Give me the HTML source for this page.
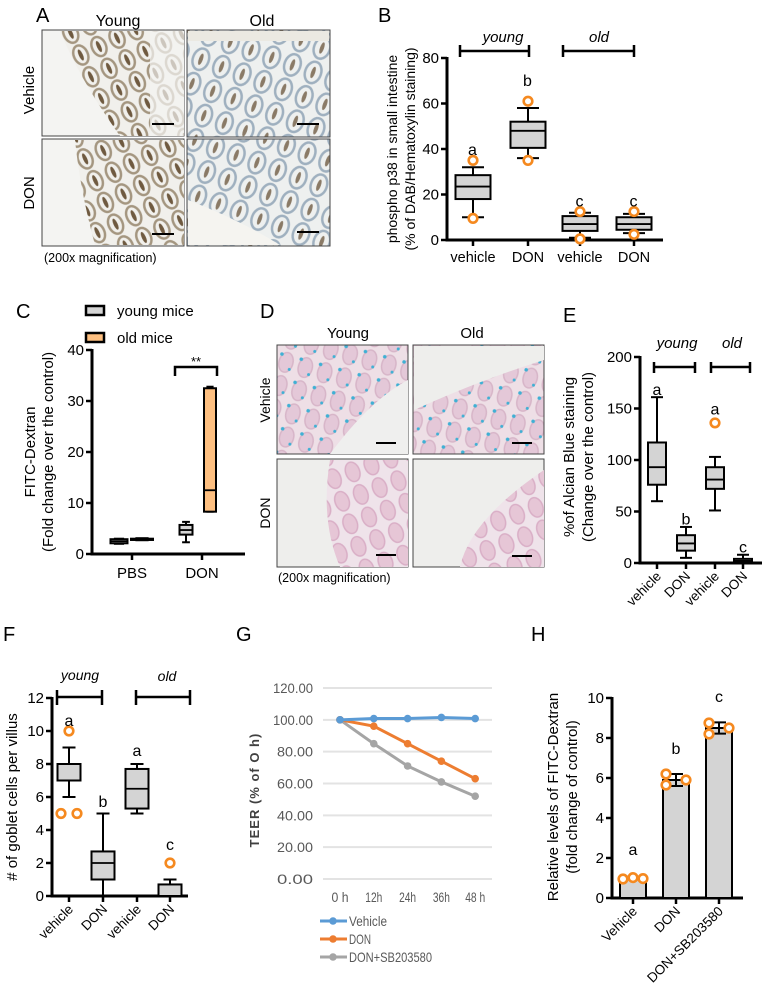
<!DOCTYPE html>
<html><head><meta charset="utf-8"><style>
html,body{margin:0;padding:0;background:#fff;}
svg{display:block;font-family:"Liberation Sans",sans-serif;}
</style></head><body>
<svg id="fig" width="764" height="998" viewBox="0 0 764 998" xmlns="http://www.w3.org/2000/svg">
<defs>
<pattern id="villiA" width="22" height="26" patternUnits="userSpaceOnUse" patternTransform="rotate(20)">
<rect width="22" height="26" fill="#eef0ef"/>
<ellipse cx="11" cy="13" rx="8" ry="11" fill="none" stroke="#9fb0bf" stroke-width="2.5"/>
<ellipse cx="11" cy="13" rx="2" ry="6" fill="#8a7a66"/>
</pattern>
<pattern id="villiA2" width="20" height="24" patternUnits="userSpaceOnUse" patternTransform="rotate(-25)">
<rect width="20" height="24" fill="#f1f0ec"/>
<ellipse cx="10" cy="12" rx="7" ry="10" fill="none" stroke="#a49680" stroke-width="2.5"/>
<ellipse cx="10" cy="12" rx="2" ry="6" fill="#6f5a40"/>
</pattern>
<pattern id="villiD" width="20" height="24" patternUnits="userSpaceOnUse" patternTransform="rotate(15)">
<rect width="20" height="24" fill="#eedfe6"/>
<ellipse cx="10" cy="12" rx="7" ry="10" fill="#e4c8d8" stroke="#d7b5c8" stroke-width="1.5"/>
<circle cx="4" cy="5" r="1.8" fill="#3fb0d4"/>
<circle cx="15" cy="18" r="1.5" fill="#3fb0d4"/>
</pattern>
<pattern id="villiD2" width="20" height="24" patternUnits="userSpaceOnUse" patternTransform="rotate(-20)">
<rect width="20" height="24" fill="#efe3ea"/>
<ellipse cx="10" cy="12" rx="7" ry="10" fill="#e6c6d6" stroke="#d9aec6" stroke-width="1.5"/>
</pattern>
</defs>

<!-- Panel A -->
<g>
<text x="36" y="22" font-size="20">A</text>
<text x="118" y="26" font-size="16" text-anchor="middle">Young</text>
<text x="262" y="26" font-size="16" text-anchor="middle">Old</text>
<text transform="translate(34,90) rotate(-90)" font-size="15" text-anchor="middle">Vehicle</text>
<text transform="translate(34,193) rotate(-90)" font-size="15" text-anchor="middle">DON</text>
<g>
<rect x="42" y="30" width="142" height="106" fill="#f4f4f2" stroke="#444" stroke-width="1"/>
<path d="M60 31 L184 31 L184 136 L120 136 Q80 80 60 31Z" fill="url(#villiA2)"/>
<path d="M150 31 L184 31 L184 136 L150 136 Z" fill="#f4f4f2" opacity="0.7"/>
<rect x="152" y="123" width="22" height="2" fill="#000"/>
</g>
<g>
<rect x="187" y="30" width="143" height="107" fill="url(#villiA)" stroke="#444" stroke-width="1"/>
<rect x="188" y="31" width="141" height="10" fill="#ebe9e2"/>
<rect x="297" y="123" width="22" height="2" fill="#000"/>
</g>
<g>
<rect x="42" y="139" width="142" height="107" fill="#f4f4f2" stroke="#444" stroke-width="1"/>
<path d="M75 140 L184 140 L184 245 L95 245 Q80 190 75 140Z" fill="url(#villiA2)"/>
<rect x="152" y="233" width="22" height="2" fill="#000"/>
</g>
<g>
<rect x="187" y="139" width="143" height="107" fill="url(#villiA)" stroke="#444" stroke-width="1"/>
<path d="M188 200 Q240 220 280 245 L188 245Z" fill="#f5f4f0"/>
<rect x="297" y="231" width="22" height="2" fill="#000"/>
</g>
<text x="44" y="262" font-size="12.5">(200x magnification)</text>
</g>

<!-- Panel D -->
<g>
<text x="260" y="318" font-size="20">D</text>
<text x="348" y="338" font-size="15" text-anchor="middle">Young</text>
<text x="472" y="338" font-size="15" text-anchor="middle">Old</text>
<text transform="translate(270,400) rotate(-90)" font-size="14" text-anchor="middle">Vehicle</text>
<text transform="translate(270,513) rotate(-90)" font-size="14" text-anchor="middle">DON</text>
<g>
<rect x="277" y="345" width="131" height="109" fill="url(#villiD)" stroke="#444" stroke-width="1"/>
<path d="M330 454 Q370 400 408 380 L408 454Z" fill="#efefee"/>
<rect x="376" y="442" width="20" height="2" fill="#000"/>
</g>
<g>
<rect x="413" y="345" width="131" height="109" fill="url(#villiD)" stroke="#444" stroke-width="1"/>
<path d="M414 346 L544 346 L544 360 Q480 380 414 410Z" fill="#eeeeec"/>
<rect x="512" y="442" width="20" height="2" fill="#000"/>
</g>
<g>
<rect x="277" y="459" width="131" height="108" fill="#eeeeec" stroke="#444" stroke-width="1"/>
<path d="M330 460 L408 460 L408 567 L340 567 Q320 520 330 460Z" fill="url(#villiD2)"/>
<rect x="376" y="554" width="20" height="2" fill="#000"/>
</g>
<g>
<rect x="413" y="459" width="131" height="108" fill="#eeeeec" stroke="#444" stroke-width="1"/>
<path d="M460 567 Q470 520 544 470 L544 567Z" fill="url(#villiD2)"/>
<rect x="512" y="555" width="20" height="2" fill="#000"/>
</g>
<text x="278" y="582" font-size="12.5">(200x magnification)</text>
</g>

<!-- Panel letters for charts -->
<text x="378" y="22" font-size="20">B</text>
<text x="16" y="318" font-size="20">C</text>
<text x="563" y="322" font-size="20">E</text>
<text x="3" y="641" font-size="20">F</text>
<text x="236" y="641" font-size="20">G</text>
<text x="531" y="641" font-size="20">H</text>

<g id="chartB"></g>
<g id="chartC"></g>
<g id="chartE"></g>
<g id="chartF"></g>
<g id="chartG"></g>
<g id="chartH"></g>
</svg>

<script>
// ---------- Panel B data ----------
const catsB = ['vehicle','DON','vehicle','DON'];
const loB = [10,36,1,3];
const q1B = [18,40.5,4,4.5];
const medB = [23.5,48,7,7];
const q3B = [28.5,52,10.5,10];
const hiB = [32,58,12,11.5];
const outB = [[35,9.5],[61,35],[12.5,0.5],[12.5,2.5]];
const letB = ['a','b','c','c'];
const letYB = [39.5,70,17,17];
const ticksB = [0,20,40,60,80];

// ---------- Panel C data ----------
const catsC = ['PBS','DON'];
const seriesC = ['young mice','old mice'];
const loC = [[2,2.3],[2.7,8.3]];
const q1C = [[2.1,3.8],[2.75,8.3]];
const medC = [[2.5,4.7],[2.9,12.5]];
const q3C = [[2.9,5.7],[3.0,32.5]];
const hiC = [[3.0,6.3],[3.1,32.8]];
const ticksC = [0,10,20,30,40];

// ---------- Panel E data ----------
const catsE = ['vehicle','DON','vehicle','DON'];
const loE = [60,5,51,0];
const q1E = [76,12,72,0.5];
const medE = [93,19,81,2];
const q3E = [117,27,93,4];
const hiE = [161,35,103,8];
const outE = [[],[],[136],[]];
const letE = ['a','b','a','c'];
const letYE = [168,42,149,15];
const ticksE = [0,50,100,150,200];

// ---------- Panel F data ----------
const catsF = ['vehicle','DON','vehicle','DON'];
const loF = [6,0,5,0];
const q1F = [7,1,5.3,0];
const medF = [7,2,6.5,0];
const q3F = [8,2.7,7.7,0.7];
const hiF = [9,5,8,1];
const outF = [[10,5,5],[],[],[2]];
const letF = ['a','b','a','c'];
const letYF = [10.6,5.7,8.8,3.1];
const ticksF = [0,2,4,6,8,10,12];

// ---------- Panel G data ----------
const catsG = ['0 h','12h','24h','36h','48 h'];
const vehicleG = [100,100.8,100.8,101.5,100.8];
const donG = [100,96,85,74,63];
const sbG = [100,85,71,61,52];
const ticksG = [0,20,40,60,80,100,120];

// ---------- Panel H data ----------
const catsH = ['Vehicle','DON','DON+SB203580'];
const meansH = [1.0,5.9,8.5];
const errH = [0.06,0.3,0.28];
const dotsH = [[0.95,1.02,0.97],[6.2,5.65,5.9],[8.75,8.2,8.5]];
const letH = ['a','b','c'];
const ticksH = [0,2,4,6,8,10];

const NS = 'http://www.w3.org/2000/svg';
function mk(tag, attrs, parent, name){
  const el = document.createElementNS(NS, tag);
  for (const k in attrs) el.setAttribute(k, attrs[k]);
  
  
  parent.appendChild(el);
  return el;
}
function txt(parent, x, y, s, size, anchor, name, extra){
  const t = mk('text', Object.assign({x:x, y:y, 'font-size':size, 'text-anchor':anchor||'start'}, extra||{}), parent, name);
  t.textContent = s;
  return t;
}
function linear(d0,d1,r0,r1){ return v => r0 + (v-d0)/(d1-d0)*(r1-r0); }

function yAxis(g, x, y, ticks, ymin, ymax, fs){
  mk('line',{x1:x,y1:y(ymin)+1.5,x2:x,y2:y(ymax)-1,stroke:'#000','stroke-width':3},g,'y-axis-line');
  ticks.forEach(t=>{
    mk('line',{x1:x-6,y1:y(t),x2:x,y2:y(t),stroke:'#000','stroke-width':2.5},g,'y-tick');
    txt(g,x-8,y(t)+5,String(t),fs||15,'end','y-tick-label');
  });
}
function boxplot(g, cx, w, y, lo, q1, med, q3, hi, fill, name, cap){
  const c = cap||w*0.55;
  mk('line',{x1:cx,y1:y(lo),x2:cx,y2:y(hi),stroke:'#000','stroke-width':2},g,name+'-whisker');
  mk('line',{x1:cx-c/2,y1:y(hi),x2:cx+c/2,y2:y(hi),stroke:'#000','stroke-width':2},g,name+'-cap-high');
  mk('line',{x1:cx-c/2,y1:y(lo),x2:cx+c/2,y2:y(lo),stroke:'#000','stroke-width':2},g,name+'-cap-low');
  mk('rect',{x:cx-w/2,y:y(q3),width:w,height:Math.max(1,y(q1)-y(q3)),fill:fill,stroke:'#000','stroke-width':2},g,name+'-box');
  mk('line',{x1:cx-w/2,y1:y(med),x2:cx+w/2,y2:y(med),stroke:'#000','stroke-width':1.8},g,name+'-median');
}
function outlier(g,cx,cy,name){
  mk('circle',{cx:cx,cy:cy,r:4.3,fill:'#fff',stroke:'#f5891f','stroke-width':2.6},g,name);
}

// ---------- Chart B ----------
(function(){
  const g = document.getElementById('chartB');
  const y = linear(0,80,240,58);
  const xs = [473,528,580,634];
  yAxis(g,447,y,ticksB,0,80,15);
  mk('line',{x1:446,y1:y(0),x2:663,y2:y(0),stroke:'#000','stroke-width':3},g,'x-axis-line');
  catsB.forEach((c,i)=>{
    mk('line',{x1:xs[i],y1:y(0),x2:xs[i],y2:y(0)+6,stroke:'#000','stroke-width':2.5},g,'x-tick');
    txt(g,xs[i],262,c,14.5,'middle','x-tick-label');
    boxplot(g,xs[i],35,y,loB[i],q1B[i],medB[i],q3B[i],hiB[i],'#d4d4d4','box-'+i,22);
    outB[i].forEach(v=>outlier(g,xs[i],y(v),'outlier'));
    txt(g,xs[i]-0.5,y(letYB[i])+5,letB[i],16,'middle','significance-letter');
  });
  mk('path',{d:'M460 45 V57 M460 51 H529 M529 45 V57',stroke:'#000','stroke-width':2.5,fill:'none'},g,'young-bracket');
  mk('path',{d:'M563 45 V57 M563 51 H634 M634 45 V57',stroke:'#000','stroke-width':2.5,fill:'none'},g,'old-bracket');
  txt(g,503,42,'young',15,'middle','young-group-label',{'font-style':'italic'});
  txt(g,599,42,'old',15,'middle','old-group-label',{'font-style':'italic'});
  txt(g,0,0,'phospho p38 in small intestine',14,'middle','y-axis-title-line1',{transform:'translate(397,149) rotate(-90)'});
  txt(g,0,0,'(% of DAB/Hematoxylin staining)',14,'middle','y-axis-title-line2',{transform:'translate(415,149) rotate(-90)'});
})();

// ---------- Chart C ----------
(function(){
  const g = document.getElementById('chartC');
  const y = linear(0,40,554,350);
  const cx = [132,202];
  const offs = [[-13,10],[-16,8]];
  const widths = [[17,22],[13,12]];
  const fills = ['#d4d4d4','#fdbf80'];
  yAxis(g,92,y,ticksC,0,40,15);
  mk('line',{x1:91,y1:y(0),x2:245,y2:y(0),stroke:'#000','stroke-width':3},g,'x-axis-line');
  catsC.forEach((c,i)=>{
    mk('line',{x1:cx[i],y1:y(0),x2:cx[i],y2:y(0)+6,stroke:'#000','stroke-width':2.5},g,'x-tick');
    txt(g,cx[i],578,c,15,'middle','x-tick-label');
    seriesC.forEach((s,j)=>{
      boxplot(g,cx[i]+offs[i][j],widths[i][j],y,loC[j][i],q1C[j][i],medC[j][i],q3C[j][i],hiC[j][i],fills[j],'box-'+c+'-'+j,widths[i][j]*0.6);
    });
  });
  mk('path',{d:'M175 376 V367 H217 V376',stroke:'#000','stroke-width':2.5,fill:'none'},g,'significance-bracket');
  txt(g,196,366,'**',13,'middle','significance-stars');
  mk('rect',{x:86,y:306,width:18,height:9,fill:'#d4d4d4',stroke:'#000','stroke-width':2.5},g,'legend-swatch-young');
  txt(g,117,316,seriesC[0],15,'start','legend-label-young');
  mk('rect',{x:86,y:333,width:18,height:9,fill:'#fdbf80',stroke:'#000','stroke-width':2.5},g,'legend-swatch-old');
  txt(g,117,343,seriesC[1],15,'start','legend-label-old');
  txt(g,0,0,'FITC-Dextran',15,'middle','y-axis-title-line1',{transform:'translate(35,452) rotate(-90)'});
  txt(g,0,0,'(Fold change over the control)',15,'middle','y-axis-title-line2',{transform:'translate(53,452) rotate(-90)'});
})();

// ---------- Chart E ----------
(function(){
  const g = document.getElementById('chartE');
  const y = linear(0,200,563,357);
  const xs = [657,686,715,743];
  yAxis(g,640,y,ticksE,0,200,15);
  mk('line',{x1:639,y1:y(0),x2:762,y2:y(0),stroke:'#000','stroke-width':3},g,'x-axis-line');
  catsE.forEach((c,i)=>{
    mk('line',{x1:xs[i],y1:y(0),x2:xs[i],y2:y(0)+6,stroke:'#000','stroke-width':2.5},g,'x-tick');
    txt(g,0,0,c,13.5,'end','x-tick-label',{transform:'translate('+(xs[i]+5)+','+(y(0)+14)+') rotate(-45)'});
    boxplot(g,xs[i],18,y,loE[i],q1E[i],medE[i],q3E[i],hiE[i],'#d4d4d4','box-'+i,12);
    outE[i].forEach(v=>outlier(g,xs[i],y(v),'outlier'));
    txt(g,xs[i],y(letYE[i])+5,letE[i],16,'middle','significance-letter');
  });
  mk('path',{d:'M654 362 V373 M654 367 H695 M695 362 V373',stroke:'#000','stroke-width':2.5,fill:'none'},g,'young-bracket');
  mk('path',{d:'M711 362 V373 M711 367 H750 M750 362 V373',stroke:'#000','stroke-width':2.5,fill:'none'},g,'old-bracket');
  txt(g,677,348,'young',15,'middle','young-group-label',{'font-style':'italic'});
  txt(g,732,348,'old',15,'middle','old-group-label',{'font-style':'italic'});
  txt(g,0,0,'%of Alcian Blue staining',15,'middle','y-axis-title-line1',{transform:'translate(574,457) rotate(-90)'});
  txt(g,0,0,'(Change over the control)',15,'middle','y-axis-title-line2',{transform:'translate(593,457) rotate(-90)'});
})();

// ---------- Chart F ----------
(function(){
  const g = document.getElementById('chartF');
  const y = linear(0,12,896,698);
  const xs = [69,103,137,170];
  yAxis(g,52,y,ticksF,0,12,15);
  mk('line',{x1:51,y1:y(0),x2:188,y2:y(0),stroke:'#000','stroke-width':3},g,'x-axis-line');
  catsF.forEach((c,i)=>{
    mk('line',{x1:xs[i],y1:y(0),x2:xs[i],y2:y(0)+6,stroke:'#000','stroke-width':2.5},g,'x-tick');
    txt(g,0,0,c,13.5,'end','x-tick-label',{transform:'translate('+(xs[i]+5)+','+(y(0)+14)+') rotate(-45)'});
    boxplot(g,xs[i],23,y,loF[i],q1F[i],medF[i],q3F[i],hiF[i],'#d4d4d4','box-'+i,13);
    const o = outF[i];
    o.forEach((v,k)=>{
      let dx = 0;
      if (o.length===3 && k>0) dx = (k===1?-8:8);
      outlier(g,xs[i]+dx,y(v),'outlier');
    });
    txt(g,xs[i],y(letYF[i])+5,letF[i],16,'middle','significance-letter');
  });
  mk('path',{d:'M57 690 V705 M57 697 H102 M102 690 V705',stroke:'#000','stroke-width':2.5,fill:'none'},g,'young-bracket');
  mk('path',{d:'M136 690 V705 M136 697 H190 M190 690 V705',stroke:'#000','stroke-width':2.5,fill:'none'},g,'old-bracket');
  txt(g,80,680,'young',14,'middle','young-group-label',{'font-style':'italic'});
  txt(g,167,681,'old',14,'middle','old-group-label',{'font-style':'italic'});
  txt(g,0,0,'# of goblet cells per villus',15,'middle','y-axis-title',{transform:'translate(17,797) rotate(-90)'});
})();

// ---------- Chart G ----------
(function(){
  const g = document.getElementById('chartG');
  const y = linear(0,120,879,688);
  const x = i => 340 + i*33.8;
  ticksG.forEach(t=>{
    mk('line',{x1:323,y1:y(t),x2:492,y2:y(t),stroke:'#e3e3e3','stroke-width':2},g,'gridline');
    txt(g,313,y(t)+5,t.toFixed(2),14,'end','y-tick-label',{fill:'#595959',textLength:t>=100?40:36,lengthAdjust:'spacingAndGlyphs'});
  });
  catsG.forEach((c,i)=>{
    txt(g,x(i),902,c,14,'middle','x-tick-label',{fill:'#595959',textLength:c.length>3?20:17,lengthAdjust:'spacingAndGlyphs'});
  });
  const series = [[sbG,'#a5a5a5','series-don-sb203580'],[donG,'#ed7d31','series-don'],[vehicleG,'#5b9bd5','series-vehicle']];
  series.forEach(s=>{
    const pts = s[0].map((v,i)=>x(i)+','+y(v)).join(' ');
    mk('polyline',{points:pts,fill:'none',stroke:s[1],'stroke-width':3},g,s[2]+'-line');
    s[0].forEach((v,i)=>mk('circle',{cx:x(i),cy:y(v),r:3.8,fill:s[1]},g,s[2]+'-point'));
  });
  const leg = [['Vehicle','#5b9bd5',921,38],['DON','#ed7d31',939,22],['DON+SB203580','#a5a5a5',957,83]];
  leg.forEach(l=>{
    mk('line',{x1:320,y1:l[2],x2:347,y2:l[2],stroke:l[1],'stroke-width':3},g,'legend-line');
    mk('circle',{cx:333,cy:l[2],r:3.8,fill:l[1]},g,'legend-marker');
    txt(g,349,l[2]+5,l[0],14,'start','legend-label',{fill:'#595959',textLength:l[3],lengthAdjust:'spacingAndGlyphs'});
  });
  txt(g,0,0,'TEER  (% of O h)',13,'middle','y-axis-title',{transform:'translate(259,790) rotate(-90)',fill:'#404040','font-weight':'bold','letter-spacing':'1'});
})();

// ---------- Chart H ----------
(function(){
  const g = document.getElementById('chartH');
  const y = linear(0,10,898,698);
  const xs = [633,676,719];
  yAxis(g,612,y,ticksH,0,10,15);
  mk('line',{x1:611,y1:y(0),x2:743,y2:y(0),stroke:'#000','stroke-width':3},g,'x-axis-line');
  catsH.forEach((c,i)=>{
    mk('rect',{x:xs[i]-13,y:y(meansH[i]),width:26,height:y(0)-y(meansH[i]),fill:'#d4d4d4',stroke:'#000','stroke-width':2},g,'bar-'+c);
    mk('line',{x1:xs[i],y1:y(0),x2:xs[i],y2:y(0)+6,stroke:'#000','stroke-width':2.5},g,'x-tick');
    txt(g,0,0,c,13.5,'end','x-tick-label',{transform:'translate('+(xs[i]+5)+','+(y(0)+14)+') rotate(-45)'});
    const e = errH[i];
    mk('path',{d:'M'+xs[i]+' '+y(meansH[i]+e)+' V'+y(meansH[i]-e)+' M'+(xs[i]-7)+' '+y(meansH[i]+e)+' H'+(xs[i]+7)+' M'+(xs[i]-7)+' '+y(meansH[i]-e)+' H'+(xs[i]+7)+' M'+(xs[i]-10)+' '+y(meansH[i])+' H'+(xs[i]+10),stroke:'#000','stroke-width':2,fill:'none'},g,'error-bar');
    const dx = [-10,-10,10];
    const dxV = [-10,0,10];
    dotsH[i].forEach((v,k)=>outlier(g,xs[i]+(i===0?dxV[k]:dx[k]),y(v),'data-point'));
    txt(g,xs[i],y(meansH[i]+(i===0?1.0:1.15))-3,letH[i],16,'middle','significance-letter');
  });
  txt(g,0,0,'Relative levels of FITC-Dextran',15,'middle','y-axis-title-line1',{transform:'translate(558,797) rotate(-90)'});
  txt(g,0,0,'(fold change of control)',15,'middle','y-axis-title-line2',{transform:'translate(577,797) rotate(-90)'});
})();
</script>
</body></html>
